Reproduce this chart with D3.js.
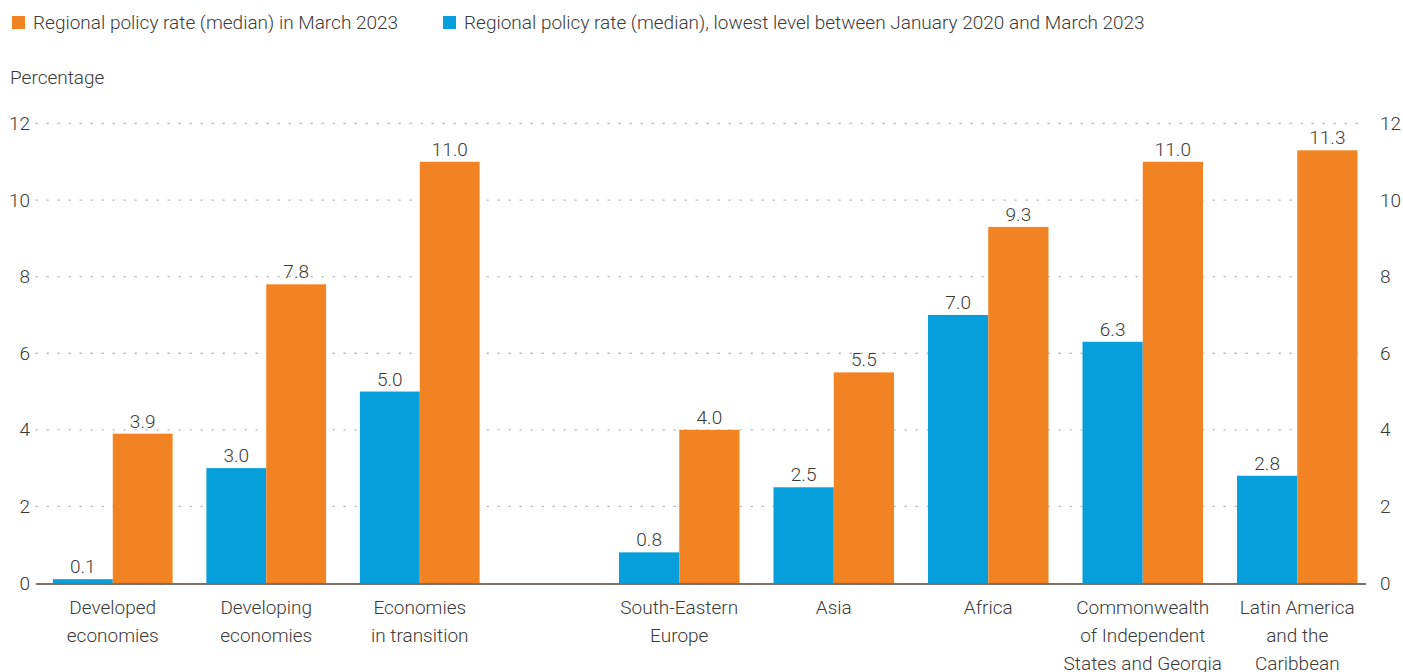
<!DOCTYPE html>
<html><head><meta charset="utf-8">
<script src="https://cdn.jsdelivr.net/npm/d3@7"></script>
<style>
body{margin:0;background:#fff;}
svg{display:block;font-family:Roboto,"Noto Sans",sans-serif;font-weight:300;}
</style></head>
<body><svg id="c" width="1403" height="672"></svg>
<script>
const categories = ["Developed\neconomies","Developing\neconomies","Economies\nin transition","South-Eastern\nEurope","Asia","Africa","Commonwealth\nof Independent\nStates and Georgia","Latin America\nand the\nCaribbean"];
const groups = ["economy","economy","economy","region","region","region","region","region"];
const lowestValues = [0.1,3.0,5.0,0.8,2.5,7.0,6.3,2.8];
const marchValues = [3.9,7.8,11.0,4.0,5.5,9.3,11.0,11.3];
const seriesNames = ["Regional policy rate (median) in March 2023","Regional policy rate (median), lowest level between January 2020 and March 2023"];
const yTicks = [0,2,4,6,8,10,12];

(function(){
const ORANGE="#F28322", BLUE="#079FDB", TXT="#3a3a3a";
const svg=d3.select("#c");
const pLeft=36,pRight=1366,pTop=123.5,pBottom=583;
const y=d3.scaleLinear().domain([0,12]).range([pBottom,pTop]);

const idxA=categories.map((c,i)=>i).filter(i=>groups[i]==="economy");
const idxB=categories.map((c,i)=>i).filter(i=>groups[i]==="region");
const xA=d3.scaleBand().domain(idxA).range([36,496.5]).paddingInner(0.22).paddingOuter(0.11);
const xB=d3.scaleBand().domain(idxB).range([602,1374.5]).paddingInner(0.22).paddingOuter(0.11);
const band=i=>groups[i]==="economy"?xA:xB;
const sub=d3.scaleBand().domain(["low","mar"]).range([0,1]);
function barX(i,k){const s=band(i);const bw=s.bandwidth();return s(i)+sub(k)*bw;}
function barW(i){return band(i).bandwidth()/2;}

svg.append("g").selectAll("line").data(yTicks.filter(t=>t>0)).join("line")
 .attr("x1",pLeft).attr("x2",pRight).attr("y1",d=>y(d)).attr("y2",d=>y(d))
 .attr("stroke","#b8b8b8").attr("stroke-width",1.3).attr("stroke-dasharray","1.3 9.7").attr("stroke-linecap","round");

const yl=d3.axisLeft(y).tickValues(yTicks).tickSize(0).tickPadding(6);
const gl=svg.append("g").attr("transform",`translate(${pLeft},0)`).call(yl);
const yr=d3.axisRight(y).tickValues(yTicks).tickSize(0).tickPadding(14);
const gr=svg.append("g").attr("transform",`translate(${pRight},0)`).call(yr);
[gl,gr].forEach(g=>{g.select(".domain").remove();g.selectAll("text").attr("font-size",19).attr("fill",TXT).attr("font-family","Roboto").attr("font-weight",300);});

const data=categories.map((c,i)=>({i,c,low:lowestValues[i],mar:marchValues[i]}));
const gb=svg.append("g");
gb.selectAll("rect.low").data(data).join("rect").attr("class","low")
 .attr("x",d=>barX(d.i,"low")).attr("width",d=>barW(d.i)).attr("y",d=>y(d.low)).attr("height",d=>y(0)-y(d.low)).attr("fill",BLUE);
gb.selectAll("rect.mar").data(data).join("rect").attr("class","mar")
 .attr("x",d=>barX(d.i,"mar")).attr("width",d=>barW(d.i)).attr("y",d=>y(d.mar)).attr("height",d=>y(0)-y(d.mar)).attr("fill",ORANGE);
const lab=svg.append("g").attr("font-size",19).attr("fill",TXT).attr("text-anchor","middle");
lab.selectAll("text.l").data(data).join("text").attr("class","l").attr("x",d=>barX(d.i,"low")+barW(d.i)/2).attr("y",d=>y(d.low)-6).text(d=>d.low.toFixed(1));
lab.selectAll("text.m").data(data).join("text").attr("class","m").attr("x",d=>barX(d.i,"mar")+barW(d.i)/2).attr("y",d=>y(d.mar)-6).text(d=>d.mar.toFixed(1));

svg.append("line").attr("x1",pLeft).attr("x2",pRight).attr("y1",y(0)+1).attr("y2",y(0)+1).attr("stroke","#7b6f68").attr("stroke-width",2);

const cl=svg.append("g").attr("font-size",19).attr("fill",TXT).attr("text-anchor","middle");
data.forEach(d=>{
  const cx=band(d.i)(d.i)+band(d.i).bandwidth()/2;
  const t=cl.append("text").attr("x",cx).attr("y",614);
  d.c.split("\n").forEach((ln,j)=>t.append("tspan").attr("x",cx).attr("dy",j?28:0).text(ln));
});

svg.append("text").attr("x",10).attr("y",84).attr("font-size",19).attr("fill",TXT).text("Percentage");

const lg=svg.append("g").attr("font-size",19).attr("fill",TXT);
const legendColors=[ORANGE,BLUE];
const legendX=[12,443];
seriesNames.forEach((s,k)=>{
  lg.append("rect").attr("x",legendX[k]).attr("y",16).attr("width",13).attr("height",13).attr("fill",legendColors[k]);
  lg.append("text").attr("x",legendX[k]+21).attr("y",29).text(s);
});
})();
</script></body></html>
